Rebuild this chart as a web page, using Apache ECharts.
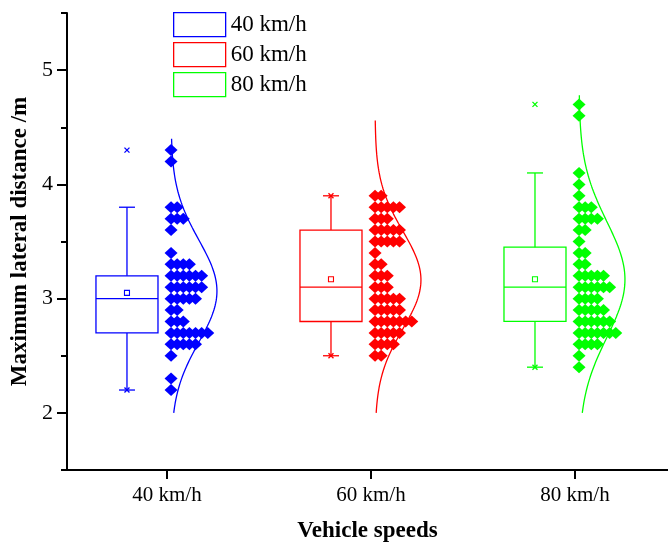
<!DOCTYPE html>
<html>
<head>
<meta charset="utf-8">
<script src="https://cdn.jsdelivr.net/npm/echarts@6/dist/echarts.min.js"></script>
<style>
  html, body { margin: 0; padding: 0; background: #fff; }
  #chart { width: 668px; height: 548px; }
</style>
</head>
<body>
<div id="chart"></div>
<script>
var speeds = ['40 km/h', '60 km/h', '80 km/h'];
var colors = ['#0000FF', '#FF0000', '#00FF00'];

// measured maximum lateral distance (m), one entry per run
var values40 = [4.3, 4.2, 3.8, 3.8, 3.7, 3.7, 3.7, 3.6, 3.4, 3.3, 3.3, 3.3, 3.3,
	3.2, 3.2, 3.2, 3.2, 3.2, 3.2, 3.1, 3.1, 3.1, 3.1, 3.1, 3.1, 3, 3, 3, 3, 3,
	2.9, 2.9, 2.8, 2.8, 2.8, 2.7, 2.7, 2.7, 2.7, 2.7, 2.7, 2.7,
	2.6, 2.6, 2.6, 2.6, 2.6, 2.5, 2.3, 2.2];
var values60 = [3.9, 3.9, 3.8, 3.8, 3.8, 3.8, 3.8, 3.7, 3.7, 3.7,
	3.6, 3.6, 3.6, 3.6, 3.6, 3.5, 3.5, 3.5, 3.5, 3.5, 3.4, 3.3, 3.3,
	3.2, 3.2, 3.2, 3.1, 3.1, 3.1, 3, 3, 3, 3, 3, 2.9, 2.9, 2.9, 2.9, 2.9,
	2.8, 2.8, 2.8, 2.8, 2.8, 2.8, 2.8, 2.7, 2.7, 2.7, 2.7, 2.7,
	2.6, 2.6, 2.6, 2.6, 2.5, 2.5];
var values80 = [4.7, 4.6, 4.1, 4.0, 3.9, 3.8, 3.8, 3.8, 3.7, 3.7, 3.7, 3.7,
	3.6, 3.6, 3.5, 3.4, 3.4, 3.3, 3.3, 3.2, 3.2, 3.2, 3.2, 3.2,
	3.1, 3.1, 3.1, 3.1, 3.1, 3.1, 3, 3, 3, 3, 2.9, 2.9, 2.9, 2.9, 2.9,
	2.8, 2.8, 2.8, 2.8, 2.8, 2.8, 2.7, 2.7, 2.7, 2.7, 2.7, 2.7, 2.7,
	2.6, 2.6, 2.6, 2.6, 2.5, 2.4];

// box stats: [whisker low, Q1, median, Q3, whisker high, mean]
var box40 = [2.2, 2.7, 3.0, 3.2, 3.8, 3.05];
var box60 = [2.5, 2.8, 3.1, 3.6, 3.9, 3.17];
var box80 = [2.4, 2.8, 3.1, 3.45, 4.1, 3.17];

// y range covered by each normal curve
var curveLow = [2, 2, 2];
var curveHigh = [4.41, 4.57, 4.79];

var yLabels = [2, 3, 4, 5];

var allValues = [values40, values60, values80];
var allBoxes = [box40, box60, box80];
var fontFamily = '"Liberation Serif", "Times New Roman", serif';

// dots of the same value are laid side by side to the right of the category
function stripPoints(vals, c) {
	var seen = {};
	return vals.map(function (v) {
		var k = seen[v] || 0;
		seen[v] = k + 1;
		return [c + 0.02 + k * 0.03, v];
	});
}

// normal curve fitted to the group (mean / sd of the values)
function normalCurve(vals, c, lo, hi) {
	var n = vals.length;
	var m = vals.reduce(function (a, b) { return a + b; }, 0) / n;
	var s = Math.sqrt(vals.reduce(function (a, v) { return a + (v - m) * (v - m); }, 0) / (n - 1));
	var pts = [];
	for (var y = lo; y <= hi + 1e-9; y += 0.02) {
		pts.push([c + 0.02 + 0.225 * Math.exp(-(y - m) * (y - m) / (2 * s * s)), y]);
	}
	return pts;
}

function renderBox(params, api) {
	var color = colors[params.seriesIndex % 3];
	var c = api.value(0) - 0.196;
	var lo = api.value(1), q1 = api.value(2), med = api.value(3), q3 = api.value(4), hi = api.value(5);
	var mean = api.value(6), vmin = api.value(7), vmax = api.value(8);
	var pL = api.coord([c - 0.152, q3]);
	var pR = api.coord([c + 0.152, q1]);
	var pc = function (y) { return api.coord([c, y]); };
	var line = function (x1, y1, x2, y2) {
		return { type: 'line', shape: { x1: x1, y1: y1, x2: x2, y2: y2 },
			style: { stroke: color, lineWidth: 1.3 } };
	};
	var cross = function (y) {
		var p = pc(y), r = 2.5;
		return [line(p[0] - r, p[1] - r, p[0] + r, p[1] + r), line(p[0] - r, p[1] + r, p[0] + r, p[1] - r)];
	};
	var cx = pc(med)[0];
	var children = [
		{ type: 'rect', shape: { x: pL[0], y: pL[1], width: pR[0] - pL[0], height: pR[1] - pL[1] },
			style: { fill: 'none', stroke: color, lineWidth: 1.3 } },
		line(pL[0], pc(med)[1], pR[0], pc(med)[1]),
		line(cx, pc(q3)[1], cx, pc(hi)[1]),
		line(cx, pc(q1)[1], cx, pc(lo)[1]),
		line(cx - 8, pc(hi)[1], cx + 8, pc(hi)[1]),
		line(cx - 8, pc(lo)[1], cx + 8, pc(lo)[1]),
		{ type: 'rect', shape: { x: cx - 2.5, y: pc(mean)[1] - 2.5, width: 5, height: 5 },
			style: { fill: 'none', stroke: color, lineWidth: 1.1 } }
	];
	children = children.concat(cross(vmin), cross(vmax));
	return { type: 'group', children: children };
}

var series = [];
allBoxes.forEach(function (b, i) {
	var vals = allValues[i];
	series.push({
		name: speeds[i],
		type: 'custom',
		renderItem: renderBox,
		encode: { x: 0, y: 1 },
		data: [[i + 1].concat(b, [Math.min.apply(null, vals), Math.max.apply(null, vals)])],
		z: 2
	});
});
allValues.forEach(function (vals, i) {
	series.push({
		name: speeds[i],
		type: 'line',
		data: normalCurve(vals, i + 1, curveLow[i], curveHigh[i]),
		showSymbol: false,
		symbol: 'none',
		lineStyle: { color: colors[i], width: 1.3 },
		itemStyle: { color: colors[i] },
		z: 3
	});
});
allValues.forEach(function (vals, i) {
	series.push({
		name: speeds[i],
		type: 'scatter',
		data: stripPoints(vals, i + 1),
		symbol: 'diamond',
		symbolSize: [13, 12],
		itemStyle: { color: colors[i], opacity: 1 },
		z: 4
	});
});

var chart = echarts.init(document.getElementById('chart'));
chart.setOption({
	animation: false,
	backgroundColor: '#fff',
	grid: { left: 67, right: 0, top: 13, bottom: 77 },
	legend: {
		orient: 'vertical',
		left: 168,
		top: 7,
		itemWidth: 52,
		itemHeight: 24,
		itemGap: 4.7,
		textStyle: { fontFamily: fontFamily, fontSize: 23, color: '#000' },
		data: speeds.map(function (s, i) {
			return { name: s, icon: 'rect',
				itemStyle: { color: 'rgba(255,255,255,0)', borderColor: colors[i], borderWidth: 1.3 } };
		})
	},
	xAxis: {
		type: 'value',
		min: 0.51,
		max: 3.456,
		name: 'Vehicle speeds',
		nameLocation: 'middle',
		nameGap: 50,
		nameTextStyle: { fontFamily: fontFamily, fontSize: 23, fontWeight: 'bold', color: '#000' },
		splitLine: { show: false },
		axisLine: { lineStyle: { color: '#000', width: 2 } },
		axisTick: { customValues: [1, 2, 3], length: 9, lineStyle: { color: '#000', width: 2 } },
		axisLabel: {
			customValues: [1, 2, 3],
			margin: 15,
			fontFamily: fontFamily, fontSize: 21, color: '#000',
			formatter: function (v) { return speeds[Math.round(v) - 1] || ''; }
		}
	},
	yAxis: [{
		type: 'value',
		min: 1.5,
		max: 5.5,
		name: 'Maximum lateral distance /m',
		nameLocation: 'middle',
		nameGap: 34,
		nameTextStyle: { fontFamily: fontFamily, fontSize: 23, fontWeight: 'bold', color: '#000' },
		splitLine: { show: false },
		axisLine: { show: true, lineStyle: { color: '#000', width: 2 } },
		axisTick: { customValues: yLabels, length: 10, lineStyle: { color: '#000', width: 2 } },
		axisLabel: { customValues: yLabels, margin: 14, fontFamily: fontFamily, fontSize: 22, color: '#000' }
	}, {
		type: 'value',
		min: 1.5,
		max: 5.5,
		position: 'left',
		splitLine: { show: false },
		axisLine: { show: false },
		axisTick: { show: true, customValues: [1.5, 2.5, 3.5, 4.5, 5.5], length: 6, lineStyle: { color: '#000', width: 2 } },
		axisLabel: { show: false }
	}],
	series: series
});
</script>
</body>
</html>
